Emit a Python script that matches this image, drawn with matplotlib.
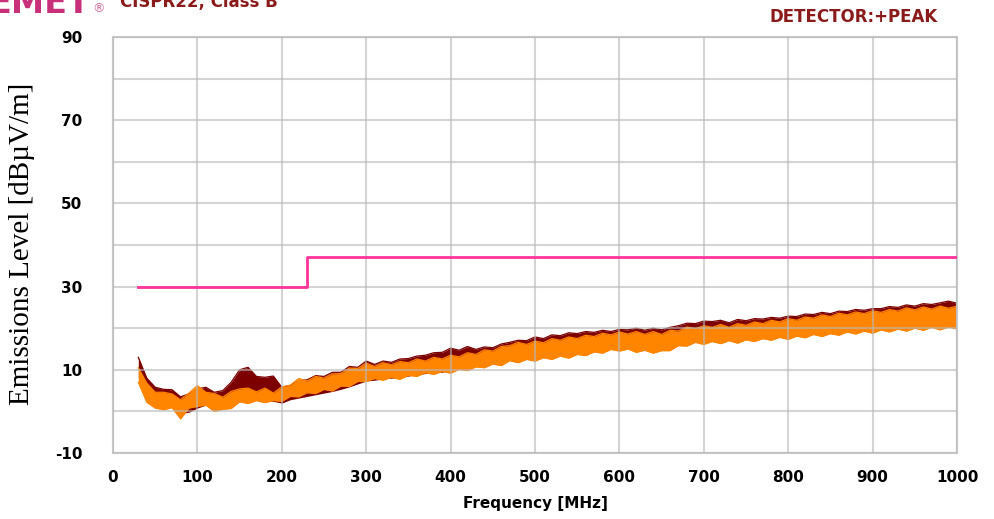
import matplotlib
matplotlib.use("Agg")
import matplotlib.pyplot as plt
from matplotlib.ticker import MultipleLocator

plt.rcParams['axes.unicode_minus'] = False

# ---------------- data ----------------
freq_mhz = [30, 40, 50, 60, 70, 80, 90, 100, 110, 120,
            130, 140, 150, 160, 170, 180, 190, 200, 210, 220,
            230, 240, 250, 260, 270, 280, 290, 300, 310, 320,
            330, 340, 350, 360, 370, 380, 390, 400, 410, 420,
            430, 440, 450, 460, 470, 480, 490, 500, 510, 520,
            530, 540, 550, 560, 570, 580, 590, 600, 610, 620,
            630, 640, 650, 660, 670, 680, 690, 700, 710, 720,
            730, 740, 750, 760, 770, 780, 790, 800, 810, 820,
            830, 840, 850, 860, 870, 880, 890, 900, 910, 920,
            930, 940, 950, 960, 970, 980, 990, 1000]

# average-like trace (orange) envelope, dBuV/m
orange_top = [10.5, 6.8, 4.6, 4.6, 4.2, 2.8, 4.4, 6.2, 4.6, 4.3,
              3.4, 4.8, 5.4, 5.6, 4.7, 5.6, 4.4, 5.9, 6.3, 7.9,
              7.3, 8.4, 8.0, 9.0, 9.1, 10.4, 10.3, 11.6, 10.8, 11.7,
              11.2, 12.0, 11.7, 12.6, 12.1, 13.0, 12.6, 13.5, 13.1, 14.1,
              13.7, 14.8, 14.5, 15.6, 15.8, 16.6, 16.1, 16.9, 16.5, 17.5,
              17.1, 17.9, 17.5, 18.3, 18.0, 18.8, 18.4, 19.1, 18.6, 19.2,
              18.5, 19.2, 18.5, 19.5, 19.3, 20.3, 19.9, 20.6, 20.2, 20.9,
              20.2, 21.1, 20.7, 21.5, 21.1, 21.9, 21.5, 22.3, 21.9, 22.7,
              22.4, 23.2, 22.8, 23.6, 23.2, 23.9, 23.5, 24.2, 23.8, 24.5,
              24.1, 24.9, 24.4, 25.1, 24.6, 25.3, 24.8, 25.3]
orange_bottom = [7.0, 2.2, 0.8, 0.4, 0.9, -1.8, 0.8, 1.2, 1.5, 0.0,
                 0.5, 0.7, 2.3, 1.9, 2.6, 2.1, 2.6, 2.4, 3.6, 3.5,
                 4.5, 4.3, 5.3, 4.9, 6.1, 6.0, 7.2, 7.2, 7.9, 7.5,
                 8.2, 7.7, 8.7, 8.4, 9.3, 8.9, 9.6, 9.2, 10.1, 9.8,
                 10.7, 10.5, 11.4, 11.0, 12.2, 11.7, 12.5, 12.1, 12.9, 12.5,
                 13.3, 12.8, 13.7, 13.4, 14.3, 14.0, 14.9, 14.5, 15.0, 14.2,
                 14.7, 14.0, 14.6, 14.6, 15.8, 15.7, 16.6, 16.1, 16.8, 16.3,
                 17.0, 16.4, 17.2, 16.8, 17.5, 17.1, 17.8, 17.3, 18.1, 17.7,
                 18.5, 18.0, 18.7, 18.3, 19.1, 18.6, 19.3, 18.8, 19.6, 19.1,
                 19.8, 19.3, 20.0, 19.5, 20.2, 19.6, 20.3, 19.8]

# peak trace (maroon) envelope, dBuV/m
maroon_top = [13.0, 8.0, 5.8, 5.3, 5.2, 3.5, 4.2, 5.4, 5.8, 4.6,
              5.0, 7.0, 10.0, 10.6, 8.4, 8.2, 8.5, 5.8, 6.2, 7.4,
              7.6, 8.6, 8.4, 9.4, 9.4, 10.8, 10.6, 12.1, 11.3, 12.1,
              11.8, 12.6, 12.7, 13.3, 13.5, 14.1, 14.2, 15.2, 14.7, 15.6,
              14.9, 15.5, 15.3, 16.2, 16.6, 17.1, 17.0, 17.9, 17.5, 18.4,
              18.2, 18.9, 18.7, 19.2, 19.0, 19.5, 19.2, 19.7, 19.6, 20.0,
              19.5, 20.0, 19.6, 20.2, 20.6, 21.2, 21.1, 21.7, 21.6, 21.9,
              21.3, 22.1, 21.8, 22.3, 22.2, 22.6, 22.4, 22.9, 22.8, 23.4,
              23.3, 23.8, 23.5, 24.1, 24.0, 24.5, 24.3, 24.7, 24.7, 25.2,
              25.0, 25.6, 25.3, 25.9, 25.7, 26.1, 26.5, 26.0]
maroon_bottom = [8.0, 3.0, 1.0, 1.2, 1.0, -0.5, -0.2, 0.8, 1.5, 0.8,
                 0.6, 1.5, 2.5, 2.6, 2.8, 2.6, 2.4, 2.0, 2.8, 3.2,
                 3.6, 4.0, 4.4, 4.8, 5.3, 5.9, 6.6, 7.3, 7.5, 7.8,
                 8.0, 8.1, 8.5, 8.8, 9.1, 9.3, 9.4, 10.2, 10.5, 10.8,
                 11.1, 11.5, 11.8, 12.0, 12.6, 12.7, 12.9, 13.1, 13.3, 13.5,
                 13.7, 13.8, 14.1, 14.4, 14.7, 15.0, 15.3, 15.5, 15.4, 15.2,
                 15.1, 15.0, 15.0, 15.6, 16.2, 16.7, 17.0, 17.1, 17.2, 17.3,
                 17.4, 17.4, 17.6, 17.8, 17.9, 18.1, 18.2, 18.3, 18.5, 18.7,
                 18.9, 19.0, 19.1, 19.3, 19.5, 19.6, 19.7, 19.8, 20.0, 20.1,
                 20.2, 20.3, 20.4, 20.5, 20.6, 20.6, 20.7, 20.7]

# CISPR 22 Class B limit
limit_freq = [30, 230, 1000]
limit_level = [30, 37, 37]

x_ticks = [0, 100, 200, 300, 400, 500, 600, 700, 800, 900, 1000]
y_ticks = [-10, 10, 30, 50, 70, 90]

for arr in (orange_top, orange_bottom, maroon_top, maroon_bottom):
    assert len(arr) == len(freq_mhz)

# ---------------- figure ----------------
fig = plt.figure(figsize=(9.94, 5.19), dpi=100)
ax = fig.add_axes([113 / 994, 66 / 519, 844 / 994, 416 / 519])

sans = ['DejaVu Sans']
dark_red = '#8b1a1a'
maroon = '#7d0000'
orange = '#ff8400'
pink = '#ff3399'

ax.fill_between(freq_mhz, maroon_bottom, maroon_top, color=maroon, lw=0, zorder=1)
ax.plot(freq_mhz, maroon_top, color=maroon, lw=0.9, zorder=1)
ax.fill_between(freq_mhz, orange_bottom, orange_top, color=orange, lw=0, zorder=2)
ax.plot(freq_mhz, orange_bottom, color=orange, lw=0.9, zorder=2)
ax.plot(freq_mhz, orange_top, color=orange, lw=0.9, zorder=2)

ax.step(limit_freq, limit_level, where='post', color=pink, lw=2, zorder=4)

ax.set_xlim(0, 1000)
ax.set_ylim(-10, 90)
ax.set_xticks(x_ticks)
ax.set_yticks(y_ticks)
ax.yaxis.set_minor_locator(MultipleLocator(10))
ax.grid(True, which='both', color='#b8b8b8', alpha=0.6, lw=1.5, zorder=3)
ax.set_axisbelow(False)
ax.tick_params(which='both', length=0)
ax.tick_params(axis='y', pad=22)
ax.tick_params(axis='x', pad=12)
for lab in ax.get_xticklabels() + ax.get_yticklabels():
    lab.set_family(sans)
    lab.set_fontweight('bold')
    lab.set_fontsize(11)
for s in ax.spines.values():
    s.set_color('#c8c8c8')
    s.set_linewidth(1.5)

ax.set_xlabel('Frequency [MHz]', family=sans, fontweight='bold', fontsize=11, labelpad=8)

fig.text(22 / 994, 1 - 244 / 519, 'Emissions Level [dBµV/m]', rotation=90,
         family=['Liberation Serif', 'DejaVu Serif'], fontsize=21, ha='center', va='center')

fig.text(938 / 994, 1 - 17 / 519, 'DETECTOR:+PEAK', family=sans, fontweight='bold',
         fontsize=12, color=dark_red, ha='right', va='center')
fig.text(120 / 994, 1 - 7 / 519, 'CISPR22, Class B', family=sans, fontweight='bold',
         fontsize=12, color=dark_red, ha='left', va='baseline')
fig.text(90 / 994, 1 - 13 / 519, 'EMET', family=sans, fontweight='bold',
         fontsize=24, color='#c8307a', ha='right', va='baseline')
fig.text(92 / 994, 1 - 12 / 519, '®', family=sans,
         fontsize=9, color='#d070a0', ha='left', va='baseline')

fig.savefig('out.png', dpi=100)
